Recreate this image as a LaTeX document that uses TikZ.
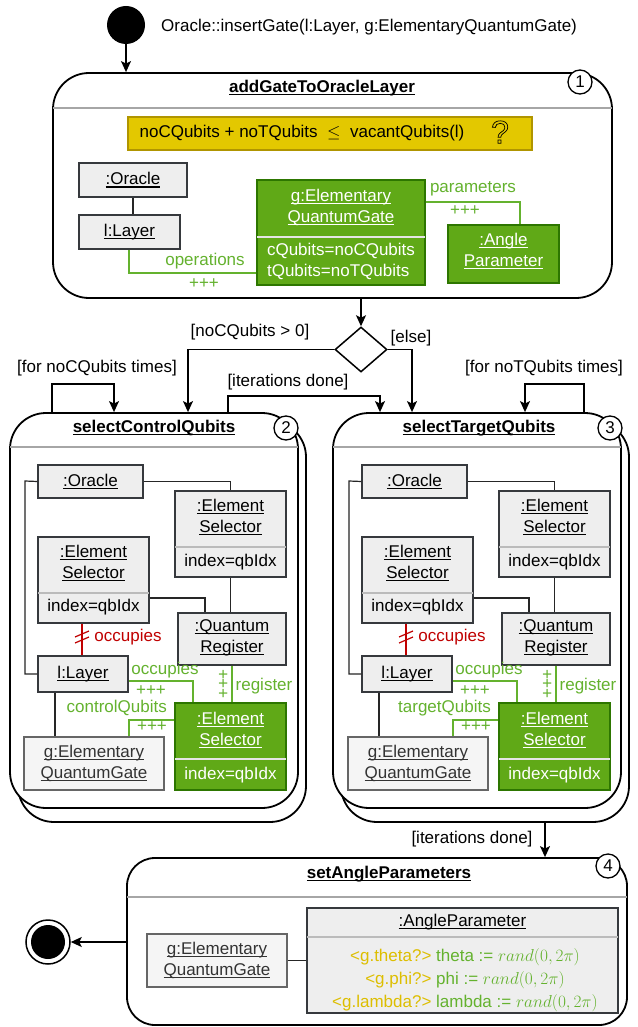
\documentclass[tikz,border=0pt]{standalone}
\usepackage{fontspec}
\setmainfont{Liberation Sans}
\usetikzlibrary{arrows.meta,shapes.geometric}
\definecolor{gfill}{HTML}{60A917}
\definecolor{gdraw}{HTML}{2D7600}
\definecolor{gtext}{HTML}{64B22E}
\definecolor{rtext}{HTML}{C00000}
\definecolor{yfill}{HTML}{E3C800}
\definecolor{ydraw}{HTML}{B09500}
\definecolor{ytext}{HTML}{DDBE00}
\definecolor{ofill}{HTML}{EEEEEE}
\definecolor{odraw}{HTML}{36393D}
\definecolor{lfill}{HTML}{F5F5F5}
\definecolor{ldraw}{HTML}{666666}
\definecolor{ltext}{HTML}{333333}
\definecolor{sepgray}{HTML}{BBBBBB}
\newcommand\fs{\fontsize{17}{21}\selectfont}
\newcommand\myul[1]{\setbox0\hbox{#1}\rlap{\rule[-2.7pt]{\wd0}{1.1pt}}\box0}
\newcommand\obox[6]{\node[#2, minimum width={(#5)-(#3)}, minimum height={(#6)-(#4)}, inner sep=0pt] (#1) at ({((#3)+(#5))/2},{((#4)+(#6))/2}) {};}
\newcommand\selcontent[2]{%
  \obox{o#1}{obj}{38}{465}{143}{498}
  \node (o#1t) at (o#1) {\myul{:Oracle}};
  \obox{esr#1}{obj}{175}{491}{286}{577}
  \draw[sepg] (175,547) -- (286,547);
  \node[align=center] (esr#1t) at (230.5,517) {\myul{:Element}\\\myul{Selector}};
  \node (esr#1a) at (230.5,562) {index=qbIdx};
  \obox{esl#1}{obj}{38}{537}{149}{623}
  \draw[sepg] (38,593) -- (149,593);
  \node[align=center] (esl#1t) at (93.5,563) {\myul{:Element}\\\myul{Selector}};
  \node (esl#1a) at (93.5,607) {index=qbIdx};
  \obox{qr#1}{obj}{178}{613}{286}{665}
  \node[align=center] (qr#1t) at (232,638) {\myul{:Quantum}\\\myul{Register}};
  \obox{l#1}{obj}{38}{656}{128}{692}
  \node (l#1t) at (l#1) {\myul{l:Layer}};
  \obox{ges#1}{objgr}{175}{703}{286}{790}
  \draw[sepw] (175,759) -- (286,759);
  \node[align=center, text=white] (ges#1t) at (230.5,730) {\myul{:Element}\\\myul{Selector}};
  \node[text=white] (ges#1a) at (230.5,775) {index=qbIdx};
  \obox{g#1}{objl}{24}{737}{164}{790}
  \node[align=center, text=ltext] (g#1t) at (94,763) {\myul{g:Elementary}\\\myul{QuantumGate}};
  % connectors
  \draw[conn] (o#1.east) -| (esr#1.north);
  \draw[conn] (esl#1.east |- 0,598) -| (qr#1.north -| 205,0);
  \draw[conn] (esr#1.south -| 230.5,0) -- (qr#1.north -| 230.5,0);
  \draw[conn] (o#1.west) -- (25,481) -- (25,674) -- (l#1.west);
  \draw[rconn] (esl#1.south -| 82,0) -- (l#1.north -| 82,0);
  \draw[rconn] (75,637) -- (89,631);
  \draw[rconn] (75,643) -- (89,637);
  \node[text=rtext] (ro#1) at (128,637) {occupies};
  \draw[gconn] (l#1.east |- 0,681) -| (ges#1.north -| 193,0);
  \node[text=gtext] (go#1) at (165,670) {occupies};
  \node[text=gtext] (gp#1) at (151,691) {+++};
  \draw[gconn] (qr#1.south -| 232,0) -- (ges#1.north -| 232,0);
  \node[text=gtext, rotate=90] (rp#1) at (224,684) {+++};
  \node[text=gtext] (rg#1) at (264,686) {register};
  \draw[conn] (l#1.south -| 55,0) -- (g#1.north -| 55,0);
  \draw[gconn] (ges#1.west |- 0,720) -| (g#1.north -| 129,0);
  \node[text=gtext, anchor=east] (cq#1) at (168,708) {#2};
  \node[text=gtext] (cp#1) at (152,727) {+++};
}
\begin{document}
\begin{tikzpicture}[x=1pt,y=-1pt,
  every node/.style={font=\fs, inner sep=1pt},
  act/.style={draw=black, line width=1.8pt, fill=white, rounded corners=#1},
  obj/.style={draw=odraw, fill=ofill, line width=1.2pt},
  objl/.style={draw=ldraw, fill=lfill, line width=1.2pt},
  objgr/.style={draw=gdraw, fill=gfill, line width=1.2pt},
  sepg/.style={draw=sepgray, line width=2pt},
  sepw/.style={draw=white!80!gray, line width=2pt},
  septitle/.style={draw=black!35, line width=2pt},
  conn/.style={line width=1.2pt, draw=black!85},
  gconn/.style={line width=1.2pt, draw=gtext},
  rconn/.style={line width=1.2pt, draw=rtext},
  arr/.style={line width=1.3pt, -{Stealth[length=11pt,width=10pt,inset=2.5pt]}},
  num/.style={circle, draw, line width=1.3pt, fill=white, minimum size=24pt, inner sep=0pt},
  ttl/.style={font=\fs\bfseries},
]
\useasboundingbox (0,0) rectangle (637,1027);

% start
\node[circle, fill=black, minimum size=38pt, inner sep=0pt] (start) at (126,25) {};
\node[anchor=west] (sig) at (160,27) {Oracle::insertGate(l:Layer, g:ElementaryQuantumGate)};

% box 1
\obox{b1}{act=36pt}{53}{73}{612}{298}
\node[ttl] (t1) at (322,88) {\myul{addGateToOracleLayer}};
\draw[septitle] (53,108) -- (612,108);
\node[num] (n1) at (580,82) {1};
\draw[arr] (start) -- (start |- b1.north);

\obox{cond}{draw=ydraw, fill=yfill, line width=1.2pt}{128}{117}{532}{150}
\node (condt) at (302,133) {noCQubits + noTQubits \ $\leq$ \ vacantQubits(l)};
\node[font=\fontsize{32}{34}\selectfont] (qm) at (500,132) {\special{pdf:literal direct 1 Tr 0.7 w}?\special{pdf:literal direct 0 Tr}};

\obox{o1}{obj}{79}{163}{187}{197}
\node (o1t) at (o1) {\myul{:Oracle}};
\obox{l1}{obj}{79}{215}{180}{249}
\node (l1t) at (l1) {\myul{l:Layer}};
\draw[conn] (o1.south -| 133,0) -- (l1.north -| 133,0);

\obox{g1}{objgr}{257}{180}{425}{285}
\draw[sepw] (257,237) -- (425,237);
\node[align=center, text=white] (g1t) at (341,207) {\myul{g:Elementary}\\\myul{QuantumGate}};
\node[align=left, text=white] (g1a) at (341,261) {cQubits=noCQubits\\tQubits=noTQubits};

\obox{ap1}{objgr}{448}{225}{559}{283}
\node[align=center, text=white] (ap1t) at (503.5,251) {\myul{:Angle}\\\myul{Parameter}};

\draw[gconn] (g1.east |- 0,202) -| (ap1.north -| 520,0);
\node[text=gtext] (pl) at (473,189) {parameters};
\node[text=gtext] (pp) at (465,211) {+++};
\draw[gconn] (l1.south -| 129,0) |- (g1.west |- 0,273);
\node[text=gtext] (ol) at (205,261) {operations};
\node[text=gtext] (op) at (204,284) {+++};

% decision
\node[diamond, draw, line width=1.5pt, minimum width=52pt, minimum height=45pt, aspect=1.15, inner sep=0pt, fill=white] (dec) at (361,349.5) {};
\draw[arr] (b1.south -| dec.north) -- (dec.north);
\node (lc) at (250,332) {[noCQubits > 0]};
\node (le) at (411,338) {[else]};

% box 2
\obox{b2s}{act=36pt}{18}{421}{306}{822}
\obox{b2}{act=36pt}{10}{413}{298}{808}
\node[ttl] (t2) at (154,428) {\myul{selectControlQubits}};
\draw[septitle] (10,447) -- (298,447);
\node[num] (n2) at (286,428) {2};

% box 3
\obox{b3s}{act=36pt}{341}{421}{629}{822}
\obox{b3}{act=36pt}{333}{413}{621}{808}
\node[ttl] (t3) at (479,428) {\myul{selectTargetQubits}};
\draw[septitle] (333,447) -- (621,447);
\node[num] (n3) at (610,428) {3};

\draw[arr] (dec.west) -| (b2.north -| 188,0);
\draw[arr] (dec.east) -| (b3.north -| 412,0);

\draw[arr] (b2.north -| 52,0) -- (52,384) -| (b2.north -| 114,0);
\node (lf2) at (97,368) {[for noCQubits times]};
\draw[arr] (b2.north -| 228,0) -- (228,396) -| (b3.north -| 380,0);
\node (li2) at (288,382) {[iterations done]};
\draw[arr] (b3.north -| 584,0) -- (584,384) -| (b3.north -| 525,0);
\node (lf3) at (544,368) {[for noTQubits times]};

\selcontent{a}{controlQubits}
\begin{scope}[xshift=324pt]
\selcontent{b}{targetQubits}
\end{scope}

% box 4
\obox{b4}{act=28pt}{127}{858}{627}{1025}
\node[ttl] (t4) at (389,874) {\myul{setAngleParameters}};
\draw[septitle] (127,897) -- (627,897);
\node[num] (n4) at (608,866) {4};
\draw[arr] (b3s.south -| 545,0) -- (b4.north -| 545,0);
\node (li3) at (472,839) {[iterations done]};

\node[circle, draw, line width=1.5pt, minimum size=44pt, inner sep=0pt, fill=white] (end) at (48,942) {};
\node[circle, fill=black, minimum size=34pt, inner sep=0pt] (endin) at (48,942) {};
\draw[arr] (b4.west |- end) -- (end.east);

\obox{g4}{objl}{147}{934}{287}{987}
\node[align=center, text=ltext] (g4t) at (217,960) {\myul{g:Elementary}\\\myul{QuantumGate}};
\obox{ap4}{obj}{307}{908}{618}{1013}
\draw[sepg] (307,937) -- (618,937);
\node (ap4t) at (462.5,922) {\myul{:AngleParameter}};
\node[align=center, font=\fontsize{17}{23}\selectfont] (ap4a) at (465,980) {%
  \textcolor{ytext}{<g.theta?>} \textcolor{gtext}{theta := $rand(0,2\pi)$}\\
  \textcolor{ytext}{<g.phi?>} \textcolor{gtext}{phi := $rand(0,2\pi)$}\\
  \textcolor{ytext}{<g.lambda?>} \textcolor{gtext}{lambda := $rand(0,2\pi)$}};
\draw[conn] (g4.east) -- (ap4.west |- g4.east);
\end{tikzpicture}
\end{document}
